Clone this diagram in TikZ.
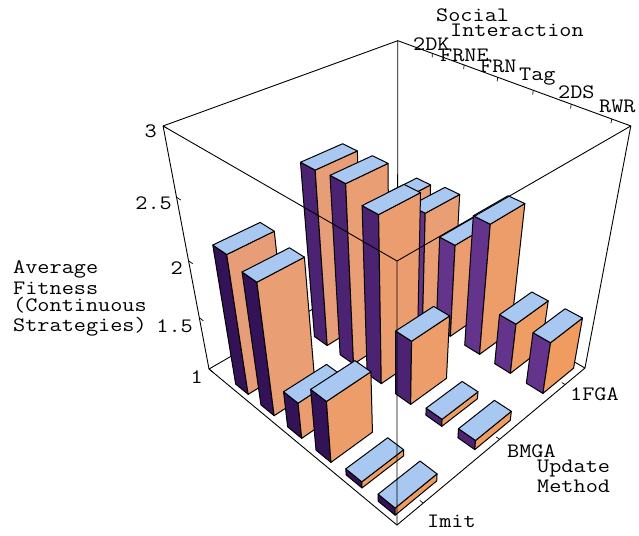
\documentclass[tikz,border=0pt]{standalone}
\usepackage{fontspec}
\newfontfamily\axisfont{Latin Modern Mono}[FakeStretch=1.15]
\usetikzlibrary{calc}
\definecolor{topblue}{RGB}{168,200,242}
\definecolor{salmon}{RGB}{230,158,122}
\definecolor{warmorange}{RGB}{242,156,92}
\definecolor{darkpurple}{RGB}{52,18,88}
\definecolor{lightpurple}{RGB}{105,55,145}
\colorlet{sideorange}{salmon}
\colorlet{endpurple}{darkpurple}
\tikzset{
    declare function={
        dd(\xs,\xu,\xw)=1-0.18*\xs+0.184*\xu-0.1966*\xw;
        px(\xs,\xu,\xw)=(209+116.5*\xs+261.8*\xu-78*\xw)/dd(\xs,\xu,\xw);
        py(\xs,\xu,\xw)=(369+61.5*\xs-61.0*\xu-267.8*\xw)/dd(\xs,\xu,\xw);
    },
    frame/.style={black,line width=0.9pt},
    axistick/.style={black,line width=0.7pt},
    face/.style={draw=black,line width=1pt,line join=round},
    topface/.style={face,fill=topblue},
    sideface/.style={face,fill=sideorange},
    endface/.style={face,fill=endpurple},
    axislabel/.style={font=\axisfont\fontsize{20.5}{19.3}\selectfont,inner sep=0pt}
}
% point of the plot box: social, update, height (all 0..1)
\newcommand\setpt[4]{\coordinate (#1) at ({px(#2,#3,#4)},{py(#2,#3,#4)});}
% one bar: social centre, update centre, value
\newcommand\barbox[3]{%
    \pgfmathsetmacro\slo{#1-0.038}\pgfmathsetmacro\shi{#1+0.038}%
    \pgfmathsetmacro\ulo{#2-0.095}\pgfmathsetmacro\uhi{#2+0.095}%
    \pgfmathsetmacro\wtop{(#3-1)/2}%
    \setpt{b1}{\slo}{\ulo}{0}\setpt{b2}{\shi}{\ulo}{0}\setpt{b3}{\shi}{\uhi}{0}
    \setpt{t1}{\slo}{\ulo}{\wtop}\setpt{t2}{\shi}{\ulo}{\wtop}
    \setpt{t3}{\shi}{\uhi}{\wtop}\setpt{t4}{\slo}{\uhi}{\wtop}
    \draw[endface] (b1)--(b2)--(t2)--(t1)--cycle;
    \draw[sideface] (b2)--(b3)--(t3)--(t2)--cycle;
    \draw[topface] (t1)--(t2)--(t3)--(t4)--cycle;
}
\begin{document}
\begin{tikzpicture}[x=1pt,y=-1pt]
\useasboundingbox (0,0) rectangle (639,535);
% box corners
\setpt{L0}{0}{0}{0}\setpt{F0}{1}{0}{0}\setpt{R0}{1}{1}{0}\setpt{B0}{0}{1}{0}
\setpt{L1}{0}{0}{1}\setpt{F1}{1}{0}{1}\setpt{R1}{1}{1}{1}\setpt{B1}{0}{1}{1}
% back edges
\draw[frame] (L1)--(B1)--(R1)--(R0);
\draw[frame] (B1)--(B0);
\draw[frame] (L0)--(B0)--(R0);
\draw[frame] (L1)--(L0);
% ticks
\foreach \w in {0,0.25,...,1}{
    \setpt{ta}{0}{0}{\w}\setpt{tb}{0.025}{0}{\w}
    \draw[axistick] (ta)--(tb);
}
\foreach \i in {0,...,5}{
    \setpt{ta}{0.1755+0.1513*\i}{1}{1}\setpt{tb}{0.1755+0.1513*\i}{1}{0.985}
    \draw[axistick] (ta)--(tb);
}
\foreach \i in {0,1,2}{
    \setpt{ta}{1}{0.117+0.3785*\i}{0}\setpt{tb}{0.985}{0.117+0.3785*\i}{0}
    \draw[axistick] (ta)--(tb);
}
% bars, back row first
\foreach \row/\vals in {3/{1.97,2.01,1.87,2.19,1.48,1.49},
                        2/{2.55,2.57,2.47,1.60,1.07,1.09},
                        1/{2.24,2.18,1.34,1.57,1.06,1.07}}{
    \pgfmathtruncatemacro\shade{100-45*(\row-1)}
    \colorlet{endpurple}{darkpurple!\shade!lightpurple}
    \foreach \v [count=\col] in \vals {
        \pgfmathtruncatemacro\warm{110-16*\col}
        \colorlet{sideorange}{salmon!\warm!warmorange}
        \barbox{0.1755+0.1513*(\col-1)}{0.117+0.3785*(\row-1)}{\v}
    }
}
% front edges
\draw[frame] (L1)--(F1)--(R1);
\draw[frame] (F1)--(F0);
\draw[frame] (L0)--(F0)--(R0);
% labels
\node[axislabel,anchor=base west] (social) at (436,22) {Social};
\node[axislabel,anchor=base west] (interaction) at (450,37) {Interaction};
\foreach \txt/\x/\y/\n in {2DK/413/50/a,FRNE/440/61/b,FRN/480/72/c,Tag/519/80/d,2DS/558/98/e,RWR/599/112/f}
    \node[axislabel,anchor=base west] (si\n) at (\x,\y) {\txt};
\foreach \txt/\y/\n in {Average/273/a,Fitness/294/b,{(Continuous}/311/c,{Strategies)}/331/d}
    \node[axislabel,anchor=base west] (fit\n) at (13,\y) {\txt};
\foreach \val/\x/\y/\n in {3/157/137/a,2.5/172/209/b,2/183/274/c,1.5/193/332/d,1/203/383/e}
    \node[axislabel,anchor=base east] (zt\n) at (\x,\y) {\val};
\node[axislabel,anchor=base west] (imit) at (427,527) {Imit};
\node[axislabel,anchor=base west] (bmga) at (507,457) {BMGA};
\node[axislabel,anchor=base west] (fga) at (570,400) {1FGA};
\node[axislabel,anchor=base west] (update) at (537,472) {Update};
\node[axislabel,anchor=base west] (method) at (537,492) {Method};
\end{tikzpicture}
\end{document}
